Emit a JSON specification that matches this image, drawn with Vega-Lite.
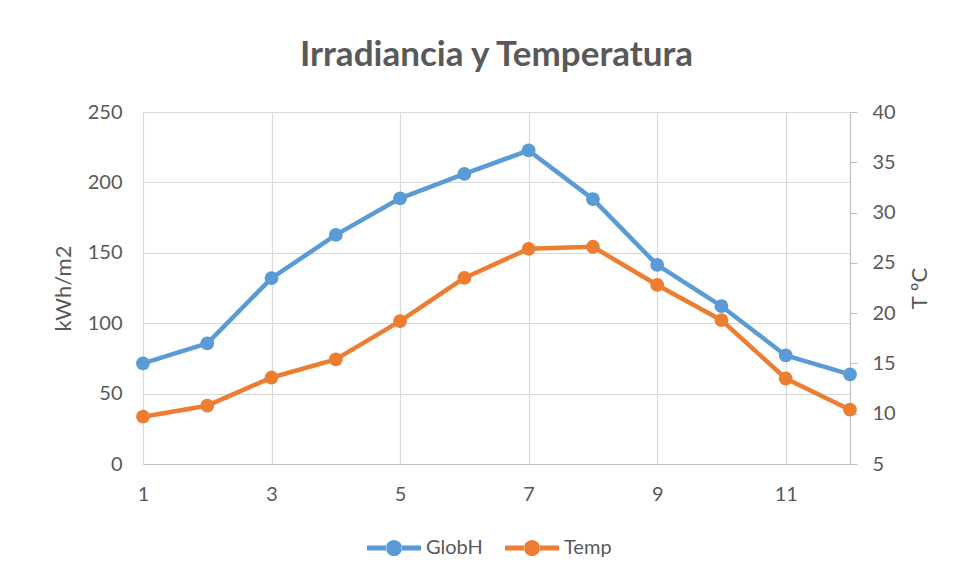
{
  "$schema": "https://vega.github.io/schema/vega-lite/v6.json",
  "width": 707,
  "height": 352,
  "autosize": {"type": "none"},
  "padding": {"left": 143, "top": 112, "right": 111, "bottom": 116},
  "background": "white",
  "config": {
    "font": "Lato",
    "view": {"stroke": null},
    "axis": {"labelFont": "Lato", "labelFontSize": 20, "labelColor": "#595959", "titleFont": "Lato", "titleFontSize": 22, "titleFontWeight": "normal", "titleColor": "#595959", "gridColor": "#d9d9d9", "gridWidth": 1.2, "domainColor": "#bfbfbf", "tickColor": "#bfbfbf"}
  },
  "title": {"text": "Irradiancia y Temperatura", "font": "Lato", "fontSize": 35, "fontWeight": "bold", "color": "#595959", "anchor": "middle", "offset": 29},
  "data": {"values": [
    {"mes": 1, "serie": "GlobH", "valor": 71.5},
    {"mes": 2, "serie": "GlobH", "valor": 85.7},
    {"mes": 3, "serie": "GlobH", "valor": 132},
    {"mes": 4, "serie": "GlobH", "valor": 162.7},
    {"mes": 5, "serie": "GlobH", "valor": 188.7},
    {"mes": 6, "serie": "GlobH", "valor": 206},
    {"mes": 7, "serie": "GlobH", "valor": 222.7},
    {"mes": 8, "serie": "GlobH", "valor": 188.1},
    {"mes": 9, "serie": "GlobH", "valor": 141.4},
    {"mes": 10, "serie": "GlobH", "valor": 112.1},
    {"mes": 11, "serie": "GlobH", "valor": 77.1},
    {"mes": 12, "serie": "GlobH", "valor": 63.6},
    {"mes": 1, "serie": "Temp", "valor": 9.7},
    {"mes": 2, "serie": "Temp", "valor": 10.8},
    {"mes": 3, "serie": "Temp", "valor": 13.6},
    {"mes": 4, "serie": "Temp", "valor": 15.4},
    {"mes": 5, "serie": "Temp", "valor": 19.2},
    {"mes": 6, "serie": "Temp", "valor": 23.5},
    {"mes": 7, "serie": "Temp", "valor": 26.4},
    {"mes": 8, "serie": "Temp", "valor": 26.6},
    {"mes": 9, "serie": "Temp", "valor": 22.8},
    {"mes": 10, "serie": "Temp", "valor": 19.3},
    {"mes": 11, "serie": "Temp", "valor": 13.5},
    {"mes": 12, "serie": "Temp", "valor": 10.4}
  ]},
  "encoding": {
    "x": {"field": "mes", "type": "quantitative", "scale": {"domain": [1, 12], "nice": false, "zero": false},
      "axis": {"title": null, "values": [1, 3, 5, 7, 9, 11], "grid": true, "ticks": false, "tickSize": 0, "labelPadding": 20, "labelFlush": false, "domain": true, "domainColor": "#bfbfbf", "domainWidth": 1.2}},
    "color": {"field": "serie", "type": "nominal", "scale": {"domain": ["GlobH", "Temp"], "range": ["#5B9BD5", "#ED7D31"]},
      "legend": {"title": null, "orient": "none", "direction": "horizontal", "legendX": 224, "legendY": 409,
        "symbolType": "M-1,-0.09H-0.28V0.09H-1Z M0.28,-0.09H1V0.09H0.28Z M-0.3,0A0.3,0.3,0,1,0,0.3,0A0.3,0.3,0,1,0,-0.3,0Z",
        "symbolSize": 2916, "symbolStrokeWidth": 0, "labelFontSize": 20, "labelColor": "#595959", "labelFont": "Lato", "labelOffset": 5, "columnPadding": 22,
        "encode": {"symbols": {"update": {"fill": {"scale": "color", "field": "value"}, "stroke": {"value": "transparent"}, "opacity": {"value": 1}}}}}}
  },
  "layer": [
    {
      "transform": [{"filter": "datum.serie === 'GlobH'"}],
      "encoding": {"y": {"field": "valor", "type": "quantitative", "scale": {"domain": [0, 250], "nice": false},
        "axis": {"orient": "left", "title": "kWh/m2", "values": [0, 50, 100, 150, 200, 250], "grid": true, "domain": false, "ticks": false, "tickSize": 0, "labelPadding": 21, "titlePadding": 12}}},
      "layer": [
        {"mark": {"type": "line", "strokeWidth": 4.5, "strokeCap": "round", "strokeJoin": "round"}},
        {"mark": {"type": "point", "filled": true, "size": 190, "opacity": 1}}
      ]
    },
    {
      "transform": [{"filter": "datum.serie === 'Temp'"}],
      "encoding": {"y": {"field": "valor", "type": "quantitative", "scale": {"domain": [5, 40], "nice": false, "zero": false},
        "axis": {"orient": "right", "title": "T ºC", "titleAngle": -90, "titleBaseline": "top", "values": [5, 10, 15, 20, 25, 30, 35, 40], "grid": false, "domain": true, "domainWidth": 1.2, "ticks": true, "tickSize": 7, "labelPadding": 15, "titlePadding": 14}}},
      "layer": [
        {"mark": {"type": "line", "strokeWidth": 4.5, "strokeCap": "round", "strokeJoin": "round"}},
        {"mark": {"type": "point", "filled": true, "size": 190, "opacity": 1}}
      ]
    }
  ],
  "resolve": {"scale": {"y": "independent"}}
}
